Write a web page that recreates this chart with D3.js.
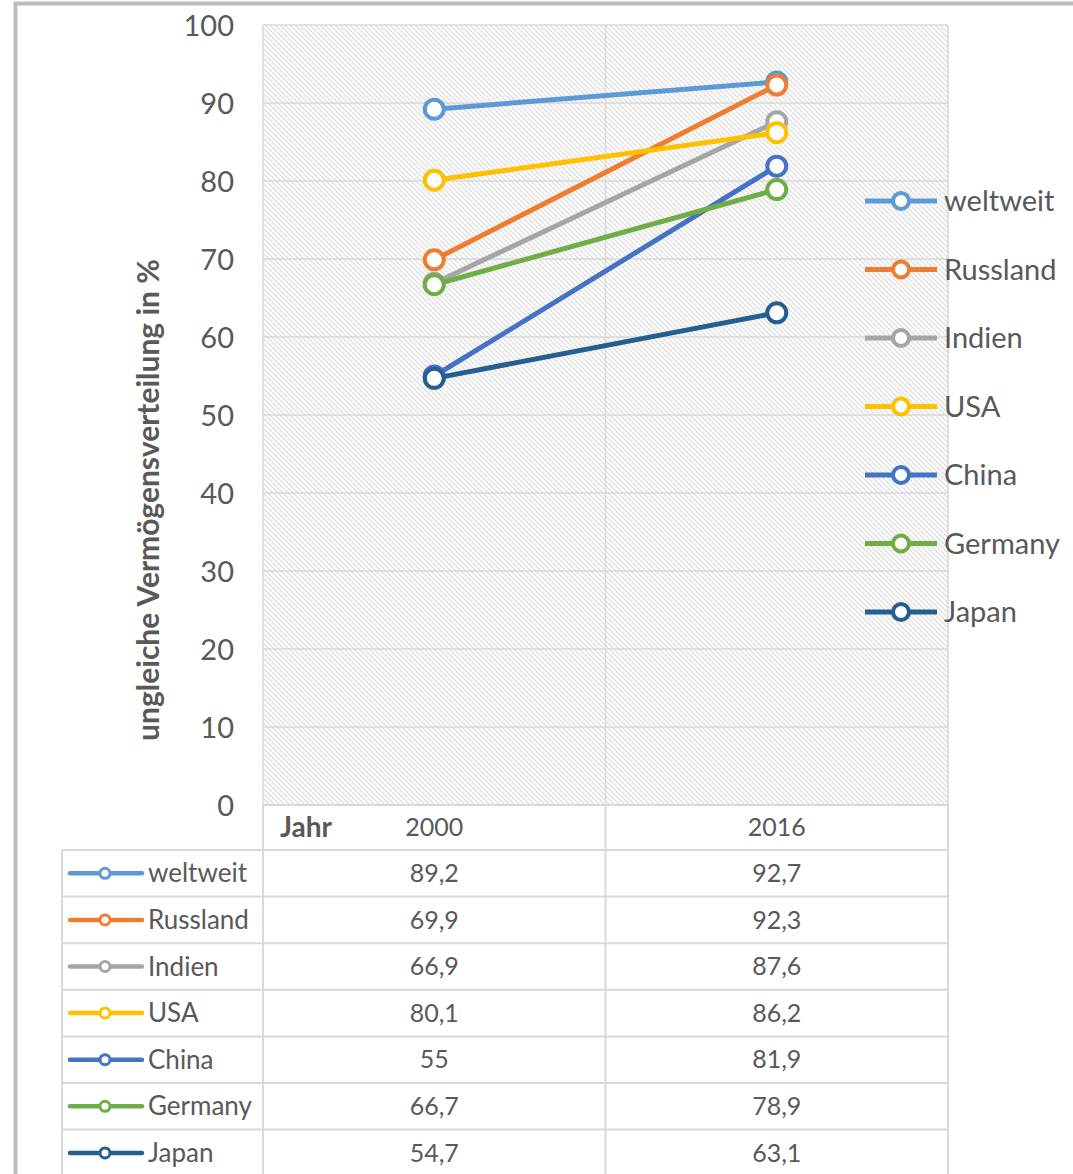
<!DOCTYPE html>
<html>
<head>
<meta charset="utf-8">
<script src="https://cdn.jsdelivr.net/npm/d3@7"></script>
<style>
  body { margin: 0; background: #fff; }
  svg text { font-family: Lato, "Open Sans", sans-serif; fill: #595959; }
</style>
</head>
<body>
<div id="chart"></div>
<script>
// data
const years = ['2000', '2016'];
const seriesNames = ['weltweit', 'Russland', 'Indien', 'USA', 'China', 'Germany', 'Japan'];
const values2000 = [89.2, 69.9, 66.9, 80.1, 55, 66.7, 54.7];
const values2016 = [92.7, 92.3, 87.6, 86.2, 81.9, 78.9, 63.1];
const seriesColors = ['#5B9BD5', '#ED7D31', '#A5A5A5', '#FFC000', '#4472C4', '#70AD47', '#255E91'];
const yTicks = [0, 10, 20, 30, 40, 50, 60, 70, 80, 90, 100];

const W = 1073, H = 1174;
const plot = { left: 263, right: 948, top: 25, bottom: 805 };

const series = seriesNames.map((name, i) => ({
  name,
  color: seriesColors[i],
  values: [values2000[i], values2016[i]]
}));

const svg = d3.select('#chart').append('svg')
  .attr('width', W)
  .attr('height', H);

// hatch pattern for plot area
const defs = svg.append('defs');
const pat = defs.append('pattern')
  .attr('id', 'hatch')
  .attr('patternUnits', 'userSpaceOnUse')
  .attr('width', 5)
  .attr('height', 5);
pat.append('rect').attr('width', 5).attr('height', 5).attr('fill', '#fff');
pat.append('path')
  .attr('d', 'M-1,-1 L6,6 M-1,4 L1,6 M4,-1 L6,1')
  .attr('stroke', '#dadada')
  .attr('stroke-width', 1.2);

// outer frame
svg.append('rect')
  .attr('x', 15.5).attr('y', 3.5)
  .attr('width', W + 20).attr('height', H + 20)
  .attr('fill', 'none')
  .attr('stroke', '#bdbdbd')
  .attr('stroke-width', 4);

const x = d3.scaleBand()
  .domain(years)
  .range([plot.left, plot.right])
  .padding(0);

const y = d3.scaleLinear()
  .domain([0, 100])
  .range([plot.bottom, plot.top]);

// plot background
svg.append('rect')
  .attr('x', plot.left).attr('y', plot.top)
  .attr('width', plot.right - plot.left)
  .attr('height', plot.bottom - plot.top)
  .attr('fill', 'url(#hatch)');

// horizontal grid
svg.append('g')
  .selectAll('line')
  .data(yTicks)
  .enter()
  .append('line')
  .attr('x1', plot.left).attr('x2', plot.right)
  .attr('y1', d => y(d)).attr('y2', d => y(d))
  .attr('stroke', '#d9d9d9')
  .attr('stroke-width', 1.5);

// vertical grid (category boundaries)
const xBounds = years.map(d => x(d)).concat([plot.right]);
svg.append('g')
  .selectAll('line')
  .data(xBounds)
  .enter()
  .append('line')
  .attr('x1', d => d).attr('x2', d => d)
  .attr('y1', plot.top).attr('y2', plot.bottom)
  .attr('stroke', '#d9d9d9')
  .attr('stroke-width', 1.5);

// y axis labels
const yAxis = svg.append('g')
  .attr('transform', `translate(${plot.left - 29},0)`)
  .call(d3.axisLeft(y).tickValues(yTicks).tickSize(0).tickPadding(0));
yAxis.select('.domain').remove();
yAxis.selectAll('text')
  .style('font-size', '29px')
  .style('fill', '#595959')
  .attr('dy', '0.35em');

// y axis title
svg.append('text')
  .attr('transform', `translate(159,${(plot.top + plot.bottom) / 2 + 85}) rotate(-90)`)
  .attr('text-anchor', 'middle')
  .style('font-size', '30px')
  .style('font-weight', 'bold')
  .text('ungleiche Vermögensverteilung in %');

// lines
const cx = d => x(d) + x.bandwidth() / 2;
const line = d3.line()
  .x((d, i) => cx(years[i]))
  .y(d => y(d));

const sg = svg.append('g')
  .selectAll('g')
  .data(series)
  .enter()
  .append('g');

sg.append('path')
  .attr('d', d => line(d.values))
  .attr('fill', 'none')
  .attr('stroke', d => d.color)
  .attr('stroke-width', 5)
  .attr('stroke-linecap', 'round');

sg.selectAll('circle')
  .data(d => d.values.map((v, i) => ({ v, i, color: d.color })))
  .enter()
  .append('circle')
  .attr('cx', d => cx(years[d.i]))
  .attr('cy', d => y(d.v))
  .attr('r', 9.5)
  .attr('fill', '#fff')
  .attr('stroke', d => d.color)
  .attr('stroke-width', 4);

// right legend
const legendY = d3.scalePoint()
  .domain(seriesNames)
  .range([201, 612]);

const lg = svg.append('g')
  .selectAll('g')
  .data(series)
  .enter()
  .append('g')
  .attr('transform', d => `translate(0,${legendY(d.name)})`);

lg.append('line')
  .attr('x1', 865).attr('x2', 937)
  .attr('stroke', d => d.color)
  .attr('stroke-width', 5);
lg.append('circle')
  .attr('cx', 901).attr('r', 8)
  .attr('fill', '#fff')
  .attr('stroke', d => d.color)
  .attr('stroke-width', 4);
lg.append('text')
  .attr('x', 944)
  .attr('dy', '0.35em')
  .style('font-size', '29px')
  .text(d => d.name);

// data table
const tableLeft = 62;
const headerTop = plot.bottom, headerBottom = 850;
const rowY = d3.scaleBand()
  .domain(seriesNames)
  .range([headerBottom, headerBottom + 46.6 * seriesNames.length]);

const tg = svg.append('g');
const gridStroke = '#d9d9d9';

// header row
tg.append('line')
  .attr('x1', plot.left).attr('x2', plot.right)
  .attr('y1', headerTop).attr('y2', headerTop)
  .attr('stroke', gridStroke).attr('stroke-width', 2);
tg.append('text')
  .attr('x', 280)
  .attr('y', (headerTop + headerBottom) / 2)
  .attr('dy', '0.35em')
  .style('font-size', '28px')
  .style('font-weight', 'bold')
  .text('Jahr');
tg.selectAll('.yr')
  .data(years)
  .enter()
  .append('text')
  .attr('class', 'yr')
  .attr('x', d => cx(d))
  .attr('y', (headerTop + headerBottom) / 2)
  .attr('dy', '0.35em')
  .attr('text-anchor', 'middle')
  .style('font-size', '25px')
  .text(d => d);

// horizontal row lines
const rowLines = [headerBottom].concat(seriesNames.map(n => rowY(n) + rowY.bandwidth()));
tg.selectAll('.hl')
  .data(rowLines)
  .enter()
  .append('line')
  .attr('x1', tableLeft).attr('x2', plot.right)
  .attr('y1', d => d).attr('y2', d => d)
  .attr('stroke', gridStroke).attr('stroke-width', 2);

// vertical lines
tg.append('line')
  .attr('x1', tableLeft).attr('x2', tableLeft)
  .attr('y1', headerBottom).attr('y2', H)
  .attr('stroke', gridStroke).attr('stroke-width', 2);
tg.selectAll('.vl')
  .data(xBounds)
  .enter()
  .append('line')
  .attr('x1', d => d).attr('x2', d => d)
  .attr('y1', headerTop).attr('y2', H)
  .attr('stroke', gridStroke).attr('stroke-width', 2);

// table rows
const rows = tg.selectAll('.row')
  .data(series)
  .enter()
  .append('g')
  .attr('transform', d => `translate(0,${rowY(d.name) + rowY.bandwidth() / 2})`);

rows.append('line')
  .attr('x1', 70).attr('x2', 142)
  .attr('stroke', d => d.color)
  .attr('stroke-width', 4.5)
  .attr('stroke-linecap', 'round');
rows.append('circle')
  .attr('cx', 105).attr('r', 5)
  .attr('fill', '#fff')
  .attr('stroke', d => d.color)
  .attr('stroke-width', 3);
rows.append('text')
  .attr('x', 148)
  .attr('dy', '0.35em')
  .style('font-size', '26px')
  .text(d => d.name);

rows.selectAll('.val')
  .data(d => d.values)
  .enter()
  .append('text')
  .attr('x', (d, i) => cx(years[i]))
  .attr('dy', '0.35em')
  .attr('text-anchor', 'middle')
  .style('font-size', '25px')
  .text(d => String(d).replace('.', ','));
</script>
</body>
</html>
